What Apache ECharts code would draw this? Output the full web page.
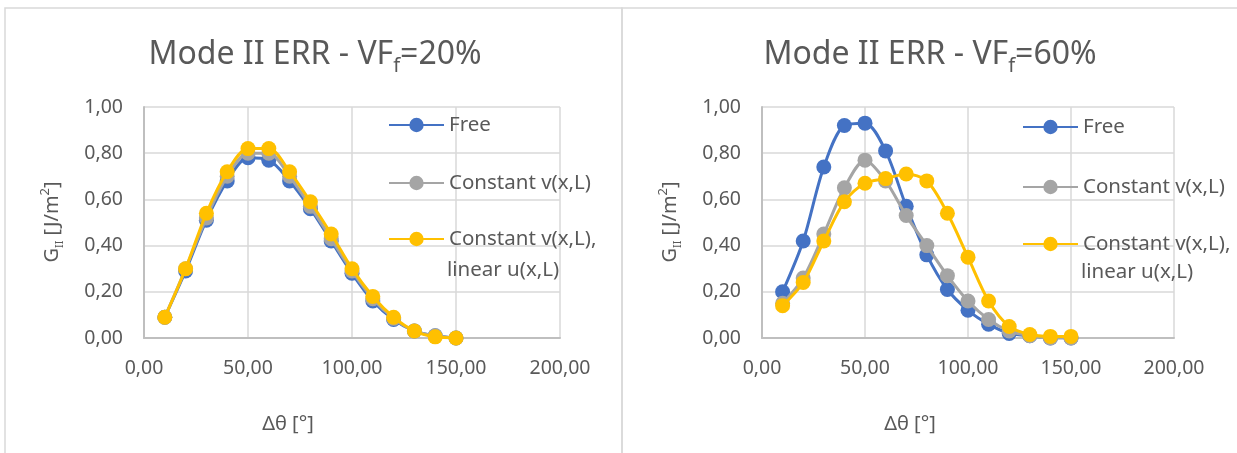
<!DOCTYPE html>
<html><head><meta charset="utf-8">
<script src="https://cdn.jsdelivr.net/npm/echarts@6/dist/echarts.min.js"></script>
<style>html,body{margin:0;padding:0;background:#fff}#c{width:1237px;height:453px}</style>
</head><body><div id="c"></div><script>
// ---- data ----
const deltaTheta = [10,20,30,40,50,60,70,80,90,100,110,120,130,140,150];
const free20      = [0.09,0.29,0.51,0.68,0.78,0.77,0.68,0.56,0.42,0.28,0.16,0.08,0.03,0.01,0.00];
const constV20    = [0.09,0.30,0.52,0.70,0.80,0.80,0.70,0.57,0.43,0.29,0.17,0.085,0.03,0.01,0.00];
const constVLinU20= [0.09,0.30,0.54,0.72,0.82,0.82,0.72,0.59,0.45,0.30,0.18,0.09,0.03,0.005,0.00];
const free60      = [0.20,0.42,0.74,0.92,0.93,0.81,0.57,0.36,0.21,0.12,0.06,0.02,0.01,0.00,0.00];
const constV60    = [0.15,0.26,0.45,0.65,0.77,0.68,0.53,0.40,0.27,0.16,0.08,0.03,0.01,0.00,0.00];
const constVLinU60= [0.14,0.24,0.42,0.59,0.67,0.69,0.71,0.68,0.54,0.35,0.16,0.05,0.015,0.007,0.007];
const seriesNames = ['Free','Constant v(x,L)','Constant v(x,L), linear u(x,L)'];
const seriesColors = ['#4472C4','#A5A5A5','#FFC000'];
const chartTitles = [['Mode II ERR - VF','f','=20%'],['Mode II ERR - VF','f','=60%']];

const FONT = 'Noto Sans';
const TXT = '#595959';
const fmt = v => v.toFixed(2).replace('.', ',');

const grids = [
  {left:144, top:107, width:416, height:231},
  {left:762, top:107, width:412, height:231}
];
const xAxes = grids.map((g,i)=>({
  type:'value', gridIndex:i, min:0, max:200, interval:50,
  axisLine:{show:true, lineStyle:{color:'#bfbfbf', width:2}},
  axisTick:{show:false},
  splitLine:{show:true, lineStyle:{color:'#d9d9d9', width:1.5}},
  axisLabel:{formatter:fmt, color:TXT, fontFamily:FONT, fontSize:19.5, margin:20}
}));
const yAxes = grids.map((g,i)=>({
  type:'value', gridIndex:i, min:0, max:1, interval:0.2,
  axisLine:{show:true, lineStyle:{color:'#bfbfbf', width:2}},
  axisTick:{show:false},
  splitLine:{show:true, lineStyle:{color:'#d9d9d9', width:1.5}},
  axisLabel:{formatter:fmt, color:TXT, fontFamily:FONT, fontSize:19.5, margin:21}
}));
const sets = [[free20,constV20,constVLinU20],[free60,constV60,constVLinU60]];
const series = [];
sets.forEach((set,gi)=>{
  set.forEach((vals,si)=>{
    series.push({
      type:'line', name:seriesNames[si], xAxisIndex:gi, yAxisIndex:gi,
      data: deltaTheta.map((x,k)=>[x, vals[k]]),
      smooth: 0.3, symbol:'circle', symbolSize:15, showSymbol:true,
      lineStyle:{color:seriesColors[si], width:3},
      itemStyle:{color:seriesColors[si]},
      z: 2+si, animation:false
    });
  });
});
const legendPos = [
  {left:388, tops:[113,171,227]},
  {left:1022, tops:[115,175,232]}
];
const legends = [];
legendPos.forEach(lp=>{
  seriesNames.forEach((n,si)=>{
    legends.push({
      data:[n], left:lp.left, top:lp.tops[si], orient:'vertical', padding:0,
      itemWidth:55, itemHeight:18, itemGap:0,
      formatter: nm => nm === seriesNames[2] ? 'Constant v(x,L),' : nm,
      textStyle:{color:TXT, fontFamily:FONT, fontSize:20.5, lineHeight:24}
    });
  });
});
function titleText(x, y, t){
  return {type:'text', x:x, y:y, z:10, style:{
    text:'{m|'+t[0]+'}{s|'+t[1]+'}{m|'+t[2]+'}', align:'center', verticalAlign:'middle',
    fill:TXT, font:'32px '+FONT,
    rich:{m:{fontSize:32, fontFamily:FONT, fill:TXT, lineHeight:42},
          s:{fontSize:20, fontFamily:FONT, fill:TXT, lineHeight:24, verticalAlign:'bottom'}}
  }};
}
function yTitle(x, y){
  return {type:'text', x:x, y:y, rotation:Math.PI/2, z:10, style:{
    text:'{m|G}{s|II}{m| [J/m}{p|2}{m|]}', align:'center', verticalAlign:'middle',
    fill:TXT, font:'20px '+FONT,
    rich:{m:{fontSize:20, fontFamily:FONT, fill:TXT, lineHeight:26},
          s:{fontSize:11, fontFamily:FONT, fill:TXT, lineHeight:14, verticalAlign:'bottom'},
          p:{fontSize:13, fontFamily:FONT, fill:TXT, lineHeight:16, verticalAlign:'top'}}
  }};
}
function plainText(x, y, t){
  return {type:'text', x:x, y:y, z:10, style:{text:t, fill:TXT, font:'20.5px '+FONT, align:'left', verticalAlign:'middle'}};
}
function xTitle(x, y){
  return {type:'text', x:x, y:y, z:10, style:{text:'Δθ [°]', fill:TXT, font:'20px '+FONT, align:'center', verticalAlign:'middle'}};
}
const graphic = [
  {type:'rect', shape:{x:5, y:8, width:617, height:460}, style:{fill:'none', stroke:'#d9d9d9', lineWidth:1.5}, z:0},
  {type:'rect', shape:{x:622, y:8, width:630, height:460}, style:{fill:'none', stroke:'#d9d9d9', lineWidth:1.5}, z:0},
  titleText(315, 55, chartTitles[0]),
  titleText(930, 55, chartTitles[1]),
  yTitle(52, 222),
  yTitle(670, 222),
  xTitle(288, 424),
  xTitle(910, 424),
  plainText(447, 270, 'linear u(x,L)'),
  plainText(1081, 272, 'linear u(x,L)')
];
const chart = echarts.init(document.getElementById('c'), null, {renderer:'canvas'});
chart.setOption({
  animation:false, backgroundColor:'#fff',
  grid:grids, xAxis:xAxes, yAxis:yAxes, series:series, legend:legends, graphic:graphic
});
</script></body></html>
